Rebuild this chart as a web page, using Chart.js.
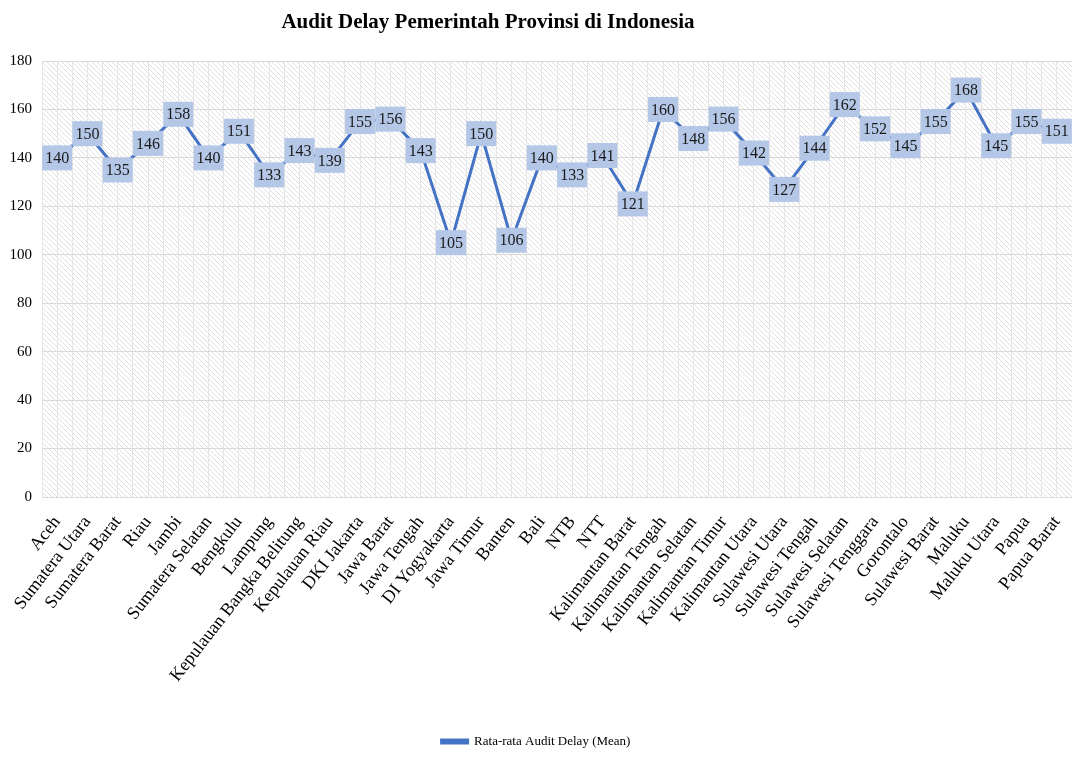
<!DOCTYPE html>
<html>
<head>
<meta charset="utf-8">
<script src="https://cdn.jsdelivr.net/npm/chart.js@4.4.1/dist/chart.umd.min.js"></script>
<style>
	html, body { margin: 0; padding: 0; background: #fff; }
	#wrap { width: 1072px; height: 758px; position: relative; }
</style>
</head>
<body>
<div id="wrap"><canvas id="audit_chart"></canvas></div>
<script>
const provinces = [
	'Aceh', 'Sumatera Utara', 'Sumatera Barat', 'Riau', 'Jambi', 'Sumatera Selatan',
	'Bengkulu', 'Lampung', 'Kepulauan Bangka Belitung', 'Kepulauan Riau', 'DKI Jakarta',
	'Jawa Barat', 'Jawa Tengah', 'DI Yogyakarta', 'Jawa Timur', 'Banten', 'Bali', 'NTB',
	'NTT', 'Kalimantan Barat', 'Kalimantan Tengah', 'Kalimantan Selatan', 'Kalimantan Timur',
	'Kalimantan Utara', 'Sulawesi Utara', 'Sulawesi Tengah', 'Sulawesi Selatan',
	'Sulawesi Tenggara', 'Gorontalo', 'Sulawesi Barat', 'Maluku', 'Maluku Utara',
	'Papua', 'Papua Barat'
];
const audit_delay = [
	140, 150, 135, 146, 158, 140, 151, 133, 143, 139, 155, 156, 143, 105, 150, 106, 140,
	133, 141, 121, 160, 148, 156, 142, 127, 144, 162, 152, 145, 155, 168, 145, 155, 151
];
const y_ticks = [0, 20, 40, 60, 80, 100, 120, 140, 160, 180];

const chart_title = 'Audit Delay Pemerintah Provinsi di Indonesia';
const serif = '"Liberation Serif", "Times New Roman", serif';

// diagonal hatch used as plot background
function make_hatch() {
	const c = document.createElement('canvas');
	c.width = 5;
	c.height = 5;
	const g = c.getContext('2d');
	g.fillStyle = '#ffffff';
	g.fillRect(0, 0, 5, 5);
	g.strokeStyle = '#e0e0e0';
	g.lineWidth = 1;
	g.beginPath();
	g.moveTo(-1, -1); g.lineTo(6, 6);
	g.moveTo(-1, 4); g.lineTo(1, 6);
	g.moveTo(4, -1); g.lineTo(6, 1);
	g.stroke();
	return g.createPattern(c, 'repeat');
}

const hatch_plugin = {
	id: 'hatch_bg',
	beforeDraw(chart) {
		const { ctx, chartArea: a } = chart;
		ctx.save();
		ctx.fillStyle = make_hatch();
		ctx.fillRect(a.left, a.top, a.right - a.left, a.bottom - a.top);
		ctx.restore();
	},
	afterDraw(chart) {
		const ctx = chart.ctx;
		ctx.save();
		ctx.fillStyle = '#000';
		ctx.font = 'bold 21px ' + serif;
		ctx.textAlign = 'center';
		ctx.textBaseline = 'middle';
		ctx.fillText(chart_title, 488, 23);
		ctx.restore();
	}
};

const value_labels = {
	id: 'value_labels',
	afterDatasetsDraw(chart) {
		const ctx = chart.ctx;
		const meta = chart.getDatasetMeta(0);
		ctx.save();
		ctx.font = '16px ' + serif;
		ctx.textAlign = 'center';
		ctx.textBaseline = 'middle';
		meta.data.forEach((pt, i) => {
			const w = 30, h = 25;
			ctx.fillStyle = '#b4c7e7';
			ctx.fillRect(pt.x - w / 2, pt.y - h / 2, w, h);
			ctx.fillStyle = '#1a1a1a';
			ctx.fillText(String(audit_delay[i]), pt.x, pt.y + 1);
		});
		ctx.restore();
	}
};

const ctx = document.getElementById('audit_chart').getContext('2d');

new Chart(ctx, {
	type: 'line',
	data: {
		labels: provinces,
		datasets: [{
			label: 'Rata-rata Audit Delay (Mean)',
			data: audit_delay,
			borderColor: '#4472c4',
			backgroundColor: '#4472c4',
			borderWidth: 3,
			pointRadius: 0,
			tension: 0,
			fill: false,
			xAxisID: 'x'
		}]
	},
	options: {
		responsive: true,
		maintainAspectRatio: false,
		animation: false,
		layout: {
			padding: { top: 61, right: 0, left: 0, bottom: 0 }
		},
		scales: {
			x: {
				offset: true,
				grid: {
					offset: true,
					color: '#e6e6e6',
					drawTicks: false
				},
				border: { display: true, color: '#d9d9d9' },
				ticks: {
					minRotation: 52,
					maxRotation: 52,
					autoSkip: false,
					padding: 15,
					color: '#000',
					font: { family: serif, size: 18 }
				},
				afterFit: (s) => { s.height = 238; s.paddingRight = 0; s.paddingLeft = 0; }
			},
			x2: {
				type: 'category',
				labels: provinces,
				offset: true,
				position: 'bottom',
				display: true,
				grid: {
					offset: false,
					color: '#e6e6e6',
					drawTicks: false
				},
				border: { display: false },
				ticks: { display: false },
				afterFit: (s) => { s.height = 0; s.paddingRight = 0; s.paddingLeft = 0; }
			},
			y: {
				min: 0,
				max: 180,
				afterBuildTicks: (s) => { s.ticks = y_ticks.map(v => ({ value: v })); },
				grid: {
					color: '#d9d9d9',
					drawTicks: false
				},
				border: { display: false },
				ticks: {
					padding: 10,
					color: '#000',
					font: { family: serif, size: 15 }
				},
				afterFit: (s) => { s.width = 42; }
			}
		},
		plugins: {
			title: { display: false },
			tooltip: { enabled: false },
			legend: {
				position: 'bottom',
				labels: {
					boxWidth: 26,
					boxHeight: 3,
					padding: 0,
					color: '#000',
					font: { family: serif, size: 13 }
				},
				onClick: function (e) {
					e.stopPropagation();
				}
			}
		}
	},
	plugins: [hatch_plugin, value_labels]
});
</script>
</body>
</html>
